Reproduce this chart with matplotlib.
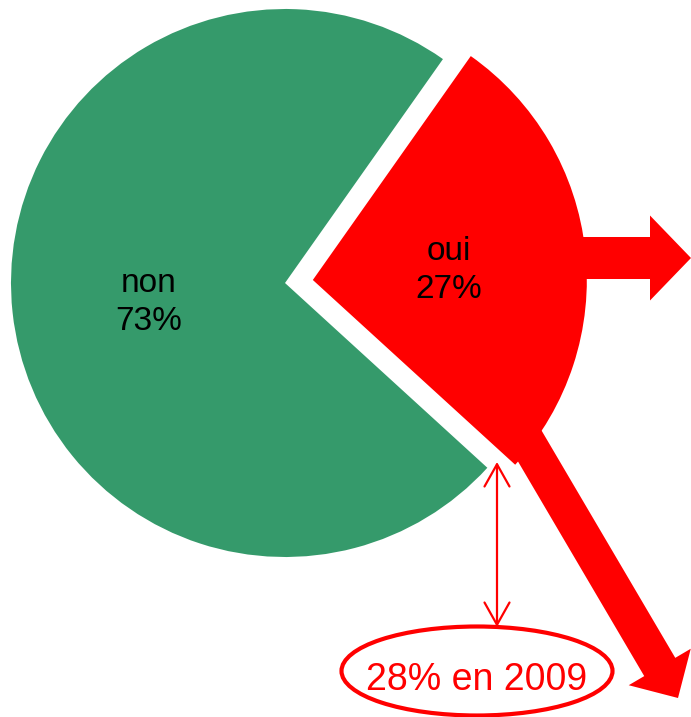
import matplotlib
matplotlib.use('Agg')
import matplotlib.pyplot as plt
from matplotlib.patches import FancyArrow, Ellipse

plt.rcParams['font.family'] = ['Liberation Sans', 'DejaVu Sans']

# données
labels = ['oui', 'non']
values = [27, 73]
colors = ['#ff0000', '#359a6b']
note_2009 = '28% en 2009'

fig = plt.figure(figsize=(6.91, 7.17), dpi=100)
ax = fig.add_axes([0, 0, 1, 1])

# camembert (axe y inversé -> coordonnées en pixels)
wedges, texts, autotexts = ax.pie(
    values, colors=colors, startangle=-54.8, counterclock=True,
    explode=[28, 0], radius=274, center=(285, 283),
    autopct='%d%%', pctdistance=0.5,
    textprops={'fontsize': 24, 'color': 'black'})
for t, lab, v in zip(autotexts, labels, values):
    t.set_text(f'{lab}\n{v}%')
    t.set_linespacing(1.3)
    x, y = t.get_position()
    t.set_position((x, y + 5))

ax.set_xlim(0, 691)
ax.set_ylim(717, 0)
ax.set_aspect('equal')
ax.axis('off')

# flèche vers la droite
ax.add_patch(FancyArrow(560, 258, 131, 0, width=42, head_width=85, head_length=41,
                        length_includes_head=True, color='#ff0000', lw=0))
# flèche vers le bas
ax.add_patch(FancyArrow(518, 426, 160, 272, width=36, head_width=72, head_length=36,
                        length_includes_head=True, color='#ff0000', lw=0))

# double flèche fine
ax.annotate('', xy=(497, 462), xytext=(497, 627),
            arrowprops=dict(arrowstyle='<->,head_length=0.8,head_width=0.45',
                            color='#ff0000', lw=1.6, mutation_scale=20,
                            shrinkA=0, shrinkB=0))

# ellipse + texte
ax.add_patch(Ellipse((477, 671), 271, 89, fill=False, edgecolor='#ff0000', lw=3))
ax.text(477, 690, note_2009, ha='center', va='baseline', fontsize=27, color='#ff0000')

plt.savefig('out.png', dpi=100)
